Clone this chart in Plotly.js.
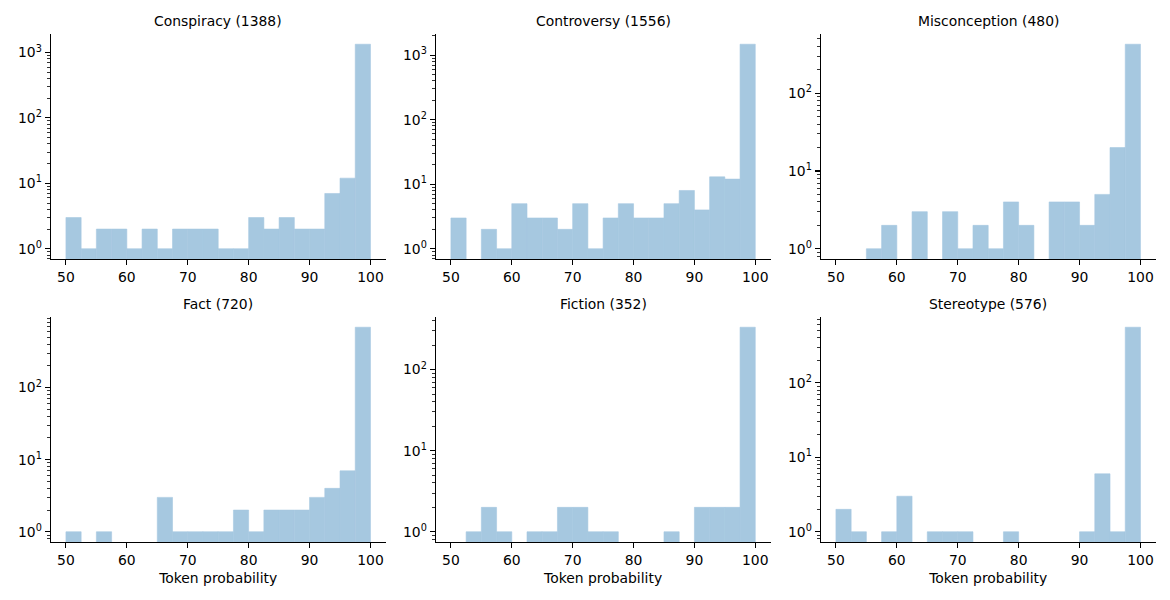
<!DOCTYPE html>
<html>
<head>
<meta charset="utf-8">
<script src="https://cdn.plot.ly/plotly-3.0.1.min.js"></script>
<style>
  body { margin: 0; background: #fff; }
  #chart { width: 1170px; height: 600px; }
</style>
</head>
<body>
<div id="chart"></div>
<script>
// left edges of the 20 histogram bins (width 2.5)
var binLeft = [50, 52.5, 55, 57.5, 60, 62.5, 65, 67.5, 70, 72.5,
               75, 77.5, 80, 82.5, 85, 87.5, 90, 92.5, 95, 97.5];

var panelNames = ['Conspiracy', 'Controversy', 'Misconception', 'Fact', 'Fiction', 'Stereotype'];
var panelTotals = [1388, 1556, 480, 720, 352, 576];

var conspiracy    = [3, 1, 2, 2, 1, 2, 1, 2, 2, 2, 1, 1, 3, 2, 3, 2, 2, 7, 12, 1337];
var controversy   = [3, 0, 2, 1, 5, 3, 3, 2, 5, 1, 3, 5, 3, 3, 5, 8, 4, 13, 12, 1475];
var misconception = [0, 0, 1, 2, 0, 3, 0, 3, 1, 2, 1, 4, 2, 0, 4, 4, 2, 5, 20, 426];
var fact          = [1, 0, 1, 0, 0, 0, 3, 1, 1, 1, 1, 2, 1, 2, 2, 2, 3, 4, 7, 688];
var fiction       = [0, 1, 2, 1, 0, 1, 1, 2, 2, 1, 1, 0, 0, 0, 1, 0, 2, 2, 2, 333];
var stereotype    = [2, 1, 0, 1, 3, 0, 1, 1, 1, 0, 0, 1, 0, 0, 0, 0, 1, 6, 1, 557];

var counts = [conspiracy, controversy, misconception, fact, fiction, stereotype];

var xTickVals = [50, 60, 70, 80, 90, 100];
var yTickVals = [1, 10, 100, 1000];
var yTickText = ['10<sup>0</sup>', '10<sup>1</sup>', '10<sup>2</sup>', '10<sup>3</sup>'];

var W = 1170, H = 600;
var colPx = [[50.7, 385.7], [435.7, 770.5], [820.7, 1155.7]];
var rowPx = [[34, 259], [317, 542]];

var font = {family: 'DejaVu Sans, sans-serif', size: 13.9, color: '#000'};

var data = [];
var layout = {
    width: W, height: H,
    margin: {l: 0, r: 0, t: 0, b: 0},
    paper_bgcolor: '#fff',
    plot_bgcolor: '#fff',
    showlegend: false,
    font: font,
    annotations: []
};

for (let i = 0; i < counts.length; i++) {
    let col = i % 3, row = Math.floor(i / 3);
    let n = i + 1;
    let sfx = n === 1 ? '' : String(n);

    data.push({
        type: 'bar',
        x: binLeft,
        y: counts[i].map(v => v > 0 ? v : null),
        width: 2.5,
        offset: 0,
        // thin outline in the fill colour hides anti-aliasing seams between bins
        marker: {color: '#a6c8e0', line: {width: 0.6, color: '#a6c8e0'}},
        xaxis: 'x' + sfx,
        yaxis: 'y' + sfx
    });

    let maxLog = Math.log10(Math.max.apply(null, counts[i]));
    let xd = [colPx[col][0] / W, colPx[col][1] / W];
    let yd = [1 - rowPx[row][1] / H, 1 - rowPx[row][0] / H];

    layout['xaxis' + sfx] = {
        domain: xd,
        anchor: 'y' + sfx,
        range: [47.5, 102.5],
        tickvals: xTickVals,
        ticks: 'outside', ticklen: 5, tickwidth: 1.1, tickcolor: '#000',
        showline: true, linecolor: '#000', linewidth: 1.1,
        showgrid: false, zeroline: false,
        tickfont: font,
        title: row === 1 ? {text: 'Token probability', font: font, standoff: 6} : {text: ''}
    };
    layout['yaxis' + sfx] = {
        domain: yd,
        anchor: 'x' + sfx,
        type: 'log',
        range: [-0.05 * maxLog, 1.05 * maxLog],
        tickvals: yTickVals,
        ticktext: yTickText,
        ticks: 'outside', ticklen: 5, tickwidth: 1.1, tickcolor: '#000',
        minor: {ticks: 'outside', ticklen: 2.8, tickwidth: 0.8, tickcolor: '#000', dtick: 'D1', showgrid: false},
        showline: true, linecolor: '#000', linewidth: 1.1,
        showgrid: false, zeroline: false,
        tickfont: font
    };

    layout.annotations.push({
        text: panelNames[i] + ' (' + panelTotals[i] + ')',
        xref: 'paper', yref: 'paper',
        x: (xd[0] + xd[1]) / 2, y: yd[1],
        xanchor: 'center', yanchor: 'bottom',
        yshift: 3,
        showarrow: false,
        font: font
    });
}

Plotly.newPlot('chart', data, layout, {staticPlot: true});
</script>
</body>
</html>
